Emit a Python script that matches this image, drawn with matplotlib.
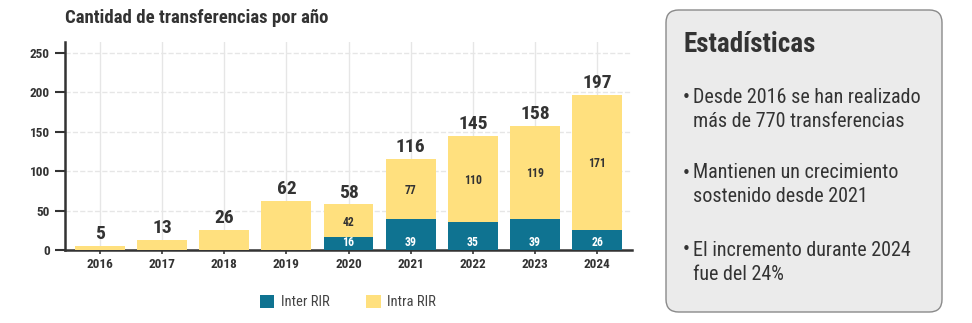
import matplotlib
matplotlib.use("Agg")
import matplotlib.pyplot as plt
from matplotlib.patches import FancyBboxPatch
import numpy as np

plt.rcParams['font.family'] = ['Roboto Condensed', 'DejaVu Sans']

years = ['2016', '2017', '2018', '2019', '2020', '2021', '2022', '2023', '2024']
inter_rir = [0, 0, 0, 0, 16, 39, 35, 39, 26]
intra_rir = [5, 13, 26, 62, 42, 77, 110, 119, 171]
totals = [5, 13, 26, 62, 58, 116, 145, 158, 197]
bullets = [
    ["Desde 2016 se han realizado", "más de 770 transferencias"],
    ["Mantienen un crecimiento", "sostenido desde 2021"],
    ["El incremento durante 2024", "fue del 24%"],
]

teal = '#0F7391'
yellow = '#FFE07E'
dark = '#333333'

W, H = 972, 323
fig = plt.figure(figsize=(W / 100, H / 100), dpi=100)
ax = fig.add_axes([65 / W, 1 - 250 / H, 567 / W, 208 / H])

x = np.arange(len(years))
ax.bar(x, inter_rir, width=0.8, color=teal, zorder=3, label='Inter RIR')
ax.bar(x, intra_rir, width=0.8, bottom=inter_rir, color=yellow, zorder=3, label='Intra RIR')

for i in range(len(years)):
    ax.annotate(str(totals[i]), (x[i], totals[i]), xytext=(0, 2), textcoords='offset points',
                ha='center', va='bottom', fontsize=14, fontweight='bold', color=dark)
    if inter_rir[i] > 0:
        ax.text(x[i], 10, str(inter_rir[i]), ha='center', va='center',
                fontsize=8.5, fontweight='bold', color='white', zorder=4)
        ax.text(x[i], inter_rir[i] + intra_rir[i] / 2 - 2, str(intra_rir[i]), ha='center',
                va='center', fontsize=8.5, fontweight='bold', color=dark, zorder=4)

ax.set_xlim(-0.56, 8.56)
ax.set_ylim(0, 264)
ax.set_xticks(x)
ax.set_xticklabels(years, fontsize=9.5, fontweight='bold', color=dark)
ax.set_yticks([0, 50, 100, 150, 200, 250])
ax.set_yticklabels([0, 50, 100, 150, 200, 250], fontsize=9.5, fontweight='bold', color=dark)
ax.tick_params(axis='y', length=7, width=1.5, color=dark, pad=4)
ax.tick_params(axis='x', length=3, width=1.2, color=dark, pad=3)

ax.grid(axis='x', color='#E6E6E6', linewidth=1, zorder=0)
ax.grid(axis='y', color='#E6E6E6', linewidth=1, linestyle='--', zorder=0)
ax.set_axisbelow(True)

for s in ['top', 'right']:
    ax.spines[s].set_visible(False)
for s in ['left', 'bottom']:
    ax.spines[s].set_color(dark)
    ax.spines[s].set_linewidth(1.8)

fig.text(65 / W, 1 - 18 / H, 'Cantidad de transferencias por año', fontsize=13.5,
         fontweight='bold', color=dark, va='center', ha='left')

leg = fig.legend(loc='center', bbox_to_anchor=(348 / W, 1 - 302 / H), ncol=2, frameon=False,
                 fontsize=10.5, handlelength=1.0, handleheight=1.0, columnspacing=2.5,
                 handletextpad=0.45)
for t in leg.get_texts():
    t.set_color('#444444')

# panel de estadisticas
box = FancyBboxPatch((666 / W, 1 - 312 / H), 276 / W, 302 / H,
                     boxstyle='round,pad=0,rounding_size=0.013',
                     transform=fig.transFigure, facecolor='#EBEBEB', edgecolor='#8A8A8A',
                     linewidth=1.0, mutation_aspect=3.0)
fig.patches.append(box)

fig.text(683 / W, 1 - 45 / H, 'Estadísticas', fontsize=19.5, fontweight='bold', color=dark,
         va='center', ha='left')
ys = [98, 173, 250]
for y0, (l1, l2) in zip(ys, bullets):
    fig.text(682 / W, 1 - y0 / H, '•', fontsize=11, color=dark, va='center', ha='left',
             family='DejaVu Sans')
    fig.text(693 / W, 1 - y0 / H, l1, fontsize=14.5, color=dark, va='center', ha='left')
    fig.text(693 / W, 1 - (y0 + 24) / H, l2, fontsize=14.5, color=dark, va='center', ha='left')

fig.savefig('out.png', dpi=100)
